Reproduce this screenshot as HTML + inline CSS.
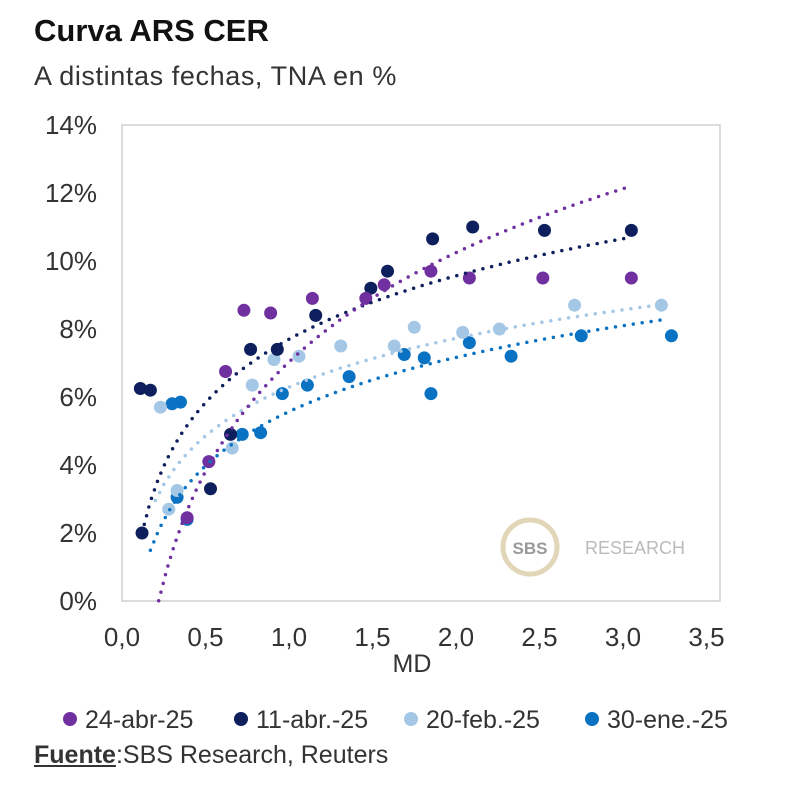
<!DOCTYPE html>
<html><head><meta charset="utf-8">
<style>
body{margin:0;background:#fff;font-family:"Liberation Sans",sans-serif;}
#wrap{position:relative;width:800px;height:791px;overflow:hidden;}
.t{position:absolute;left:34px;color:#111;}
</style></head>
<body>
<div id="wrap">
<div class="t" style="top:13px;font-size:31px;font-weight:bold;">Curva ARS CER</div>
<div class="t" style="top:61px;font-size:27px;color:#333;letter-spacing:0.6px;">A distintas fechas, TNA en %</div>
<svg id="chart" width="800" height="791" style="position:absolute;left:0;top:0"></svg>
<div class="t" style="top:741px;font-size:25px;color:#333;"><b><u>Fuente</u></b>:SBS Research, Reuters</div>
</div>
<script>
const xTicks=[0,0.5,1,1.5,2,2.5,3,3.5];
const yTicks=[0,2,4,6,8,10,12,14];
const seriesNames=["24-abr-25","11-abr.-25","20-feb.-25","30-ene.-25"];
const seriesColors=["#7030a0","#0d1f5c","#a4c7e6","#0a72c2"];
const abrX=[0.39,0.52,0.62,0.73,0.89,1.14,1.46,1.57,1.85,2.08,2.52,3.05];
const abrY=[2.45,4.1,6.75,8.55,8.47,8.9,8.9,9.3,9.7,9.5,9.5,9.5];
const abr11X=[0.11,0.17,0.12,0.53,0.65,0.77,0.93,1.16,1.49,1.59,1.86,2.1,2.53,3.05];
const abr11Y=[6.25,6.2,2.0,3.3,4.9,7.4,7.4,8.4,9.2,9.7,10.65,11.0,10.9,10.9];
const febX=[0.23,0.28,0.33,0.66,0.78,0.91,1.06,1.31,1.63,1.75,2.04,2.26,2.71,3.23];
const febY=[5.7,2.7,3.25,4.5,6.35,7.1,7.2,7.5,7.5,8.05,7.9,8.0,8.7,8.7];
const eneX=[0.3,0.35,0.33,0.39,0.72,0.83,0.96,1.11,1.36,1.69,1.81,1.85,2.08,2.33,2.75,3.29];
const eneY=[5.8,5.85,3.05,2.4,4.9,4.95,6.1,6.35,6.6,7.25,7.15,6.1,7.6,7.2,7.8,7.8];
const trendA=[7.03,7.7,6.29,5.57];
const trendB=[4.64,2.69,2.07,2.30];
const trendFrom=[0.22,0.12,0.2,0.17];
const trendTo=[3.05,3.05,3.23,3.27];
const xs=[abrX,abr11X,febX,eneX], ys=[abrY,abr11Y,febY,eneY];
const X=v=>122+v*167, Y=v=>601-v*34;
const svg=document.getElementById('chart'),NS='http://www.w3.org/2000/svg';
function mk(t,a){const e=document.createElementNS(NS,t);for(const k in a)e.setAttribute(k,a[k]);svg.appendChild(e);return e;}
const frame=mk('rect',{x:122,y:125,width:598,height:476,fill:'none',stroke:'#d0d0d0','stroke-width':1.5});


yTicks.forEach(v=>{const t=mk('text',{x:97,y:Y(v)+9,'text-anchor':'end','font-size':26,fill:'#333'});t.textContent=v+'%';

});
xTicks.forEach(v=>{const t=mk('text',{x:X(v),y:646,'text-anchor':'middle','font-size':26,fill:'#333'});t.textContent=v.toFixed(1).replace('.',',');

});
const xt=mk('text',{x:412,y:672,'text-anchor':'middle','font-size':25,fill:'#333'});xt.textContent='MD';


const wc=mk('circle',{cx:530,cy:547,r:27,fill:'#fff',stroke:'#e2d6b8','stroke-width':5});


const w1=mk('text',{x:530,y:554,'text-anchor':'middle','font-size':17,'font-weight':'bold',fill:'#999'});w1.textContent='SBS';


const w2=mk('text',{x:585,y:554,'font-size':18,fill:'#bbb'});w2.textContent='RESEARCH';


[3,2,1,0].forEach(s=>{xs[s].forEach((x,i)=>{const c=mk('circle',{cx:X(x),cy:Y(ys[s][i]),r:6.5,fill:seriesColors[s]});

});});
[3,2,1,0].forEach(s=>{let d='';const n=60;for(let i=0;i<=n;i++){const x=trendFrom[s]+(trendTo[s]-trendFrom[s])*i/n;let y=trendA[s]+trendB[s]*Math.log(x);d+=(i?'L':'M')+X(x).toFixed(1)+','+Y(y).toFixed(1);}
const p=mk('path',{d:d,fill:'none',stroke:seriesColors[s],'stroke-width':3.5,'stroke-dasharray':'0 9','stroke-linecap':'round'});

});
const lx=[70,241,411,592];
seriesNames.forEach((n,i)=>{const c=mk('circle',{cx:lx[i],cy:719,r:7,fill:seriesColors[i]});


const t=mk('text',{x:lx[i]+15,y:728,'font-size':25,fill:'#333'});t.textContent=n;

});
</script>
</body></html>
